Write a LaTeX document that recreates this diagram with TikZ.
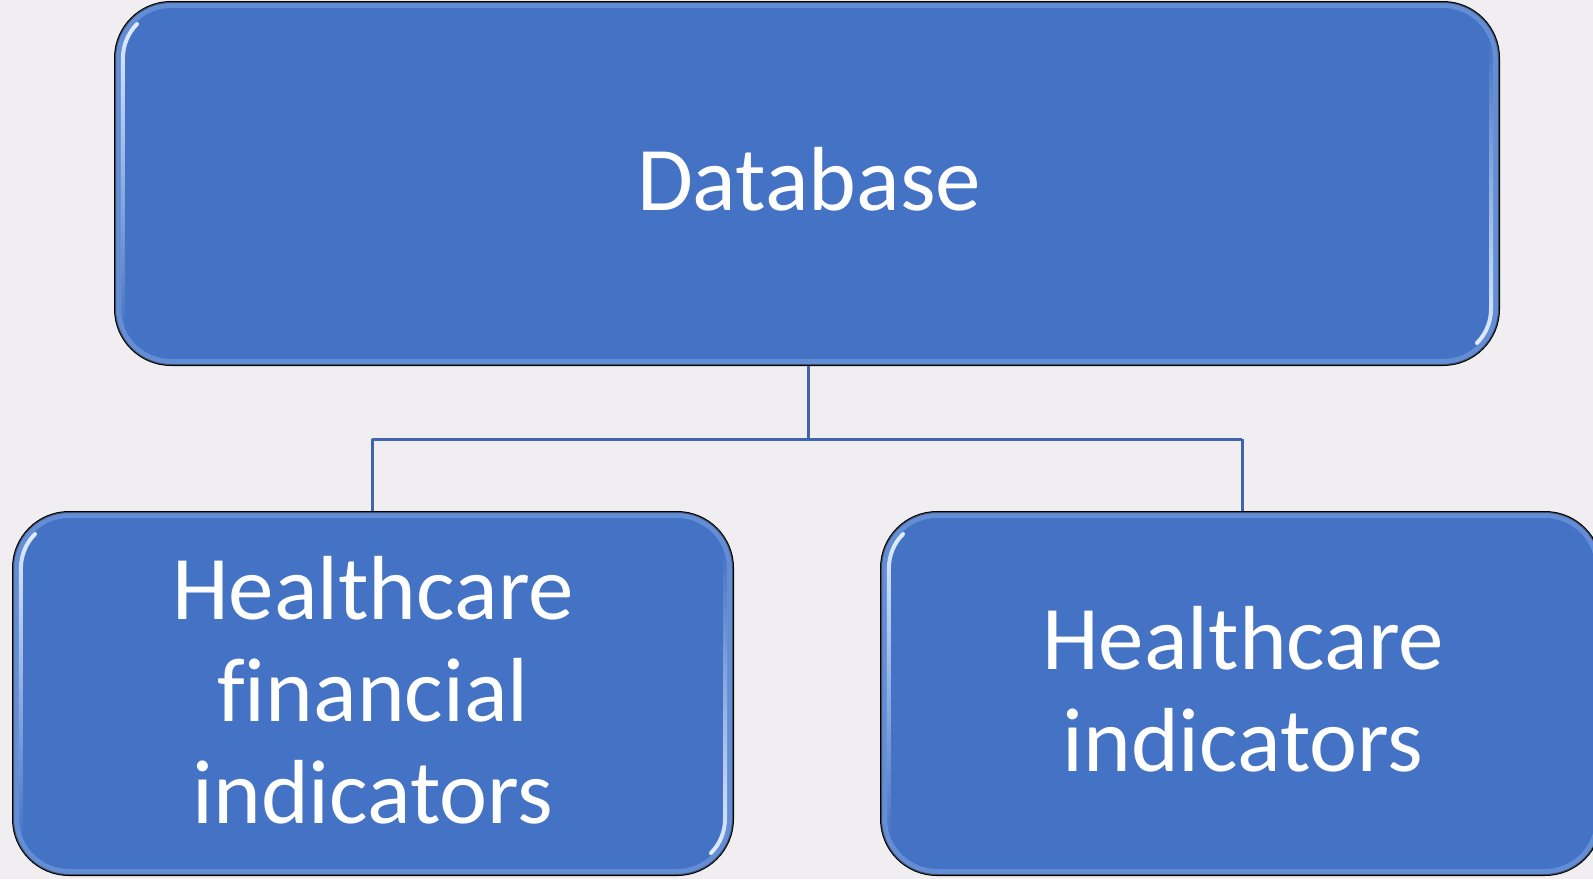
\documentclass[tikz,border=0pt]{standalone}
\usepackage{fontspec}
\setmainfont{Carlito}[Ligatures=CommonOff]
\usetikzlibrary{fadings}
\definecolor{bg}{HTML}{F0EEF0}
\definecolor{boxfill}{HTML}{4472C4}
\definecolor{boxglow}{HTML}{8AAEEB}
\definecolor{shine}{HTML}{E2EEFF}
\definecolor{link}{HTML}{3F65AF}
\tikzset{
  box/.style={draw=black, line width=2pt, fill=boxfill, rounded corners=56pt, inner sep=0pt},
  glow/.style={draw=boxglow, line width=12pt, rounded corners=56pt, opacity=0.45},
  shineL/.style={draw=shine, line width=4pt, line cap=round, path fading=south},
  shineR/.style={draw=shine, line width=4pt, line cap=round, path fading=north},
  lbl/.style={text=white, font=\fontsize{91}{102}\selectfont, anchor=base, inner sep=0pt},
  conn/.style={draw=link, line width=3pt}
}
\begin{document}
\begin{tikzpicture}[x=1pt,y=-1pt]
\useasboundingbox (0,0) rectangle (1593,879);
\fill[bg] (0,0) rectangle (1593,879);
\begin{scope}
\clip (0,0) rectangle (1593,879);
% boxes
\node[box, minimum width=1384pt, minimum height=363pt] (db) at (807,183.5) {};
\node[box, minimum width=720pt, minimum height=363pt] (fin) at (373,693.5) {};
\node[box, minimum width=720pt, minimum height=363pt] (hc) at (1241,693.5) {};
% soft inner glow
\begin{scope}
\clip[rounded corners=56pt] (115,2) rectangle (1499,365);
\draw[glow] (115,2) rectangle (1499,365);
\end{scope}
\begin{scope}
\clip[rounded corners=56pt] (13,512) rectangle (733,875);
\draw[glow] (13,512) rectangle (733,875);
\end{scope}
\begin{scope}
\clip[rounded corners=56pt] (881,512) rectangle (1601,875);
\draw[glow] (881,512) rectangle (1601,875);
\end{scope}
% highlights (top box)
\draw[shineL] (137,24) arc[start angle=225, end angle=180, radius=48] -- (123,330);
\draw[shineR] (1491,40) -- (1491,309) arc[start angle=0, end angle=45, radius=48];
% highlights (left box)
\draw[shineL] (35,534) arc[start angle=225, end angle=180, radius=48] -- (21,840);
\draw[shineR] (725,550) -- (725,819) arc[start angle=0, end angle=45, radius=48];
% highlights (right box)
\draw[shineL] (903,534) arc[start angle=225, end angle=180, radius=48] -- (889,840);
\end{scope}
% connectors
\coordinate (j) at (808,439);
\coordinate (jl) at (372,439);
\coordinate (jr) at (1242,439);
\draw[conn] (db.south -| j) -- (j);
\draw[conn] (jl) -- (jr);
\draw[conn] (jl) -- (jl |- fin.north);
\draw[conn] (jr) -- (jr |- hc.north);
% labels
\node[lbl] (t0) at (809,210) {Database};
\node[lbl] (t1) at (373,619) {Healthcare};
\node[lbl] (t2) at (373,721) {financial};
\node[lbl] (t3) at (373,823) {indicators};
\node[lbl] (t4) at (1243,669) {Healthcare};
\node[lbl] (t5) at (1243,771) {indicators};
\end{tikzpicture}
\end{document}
